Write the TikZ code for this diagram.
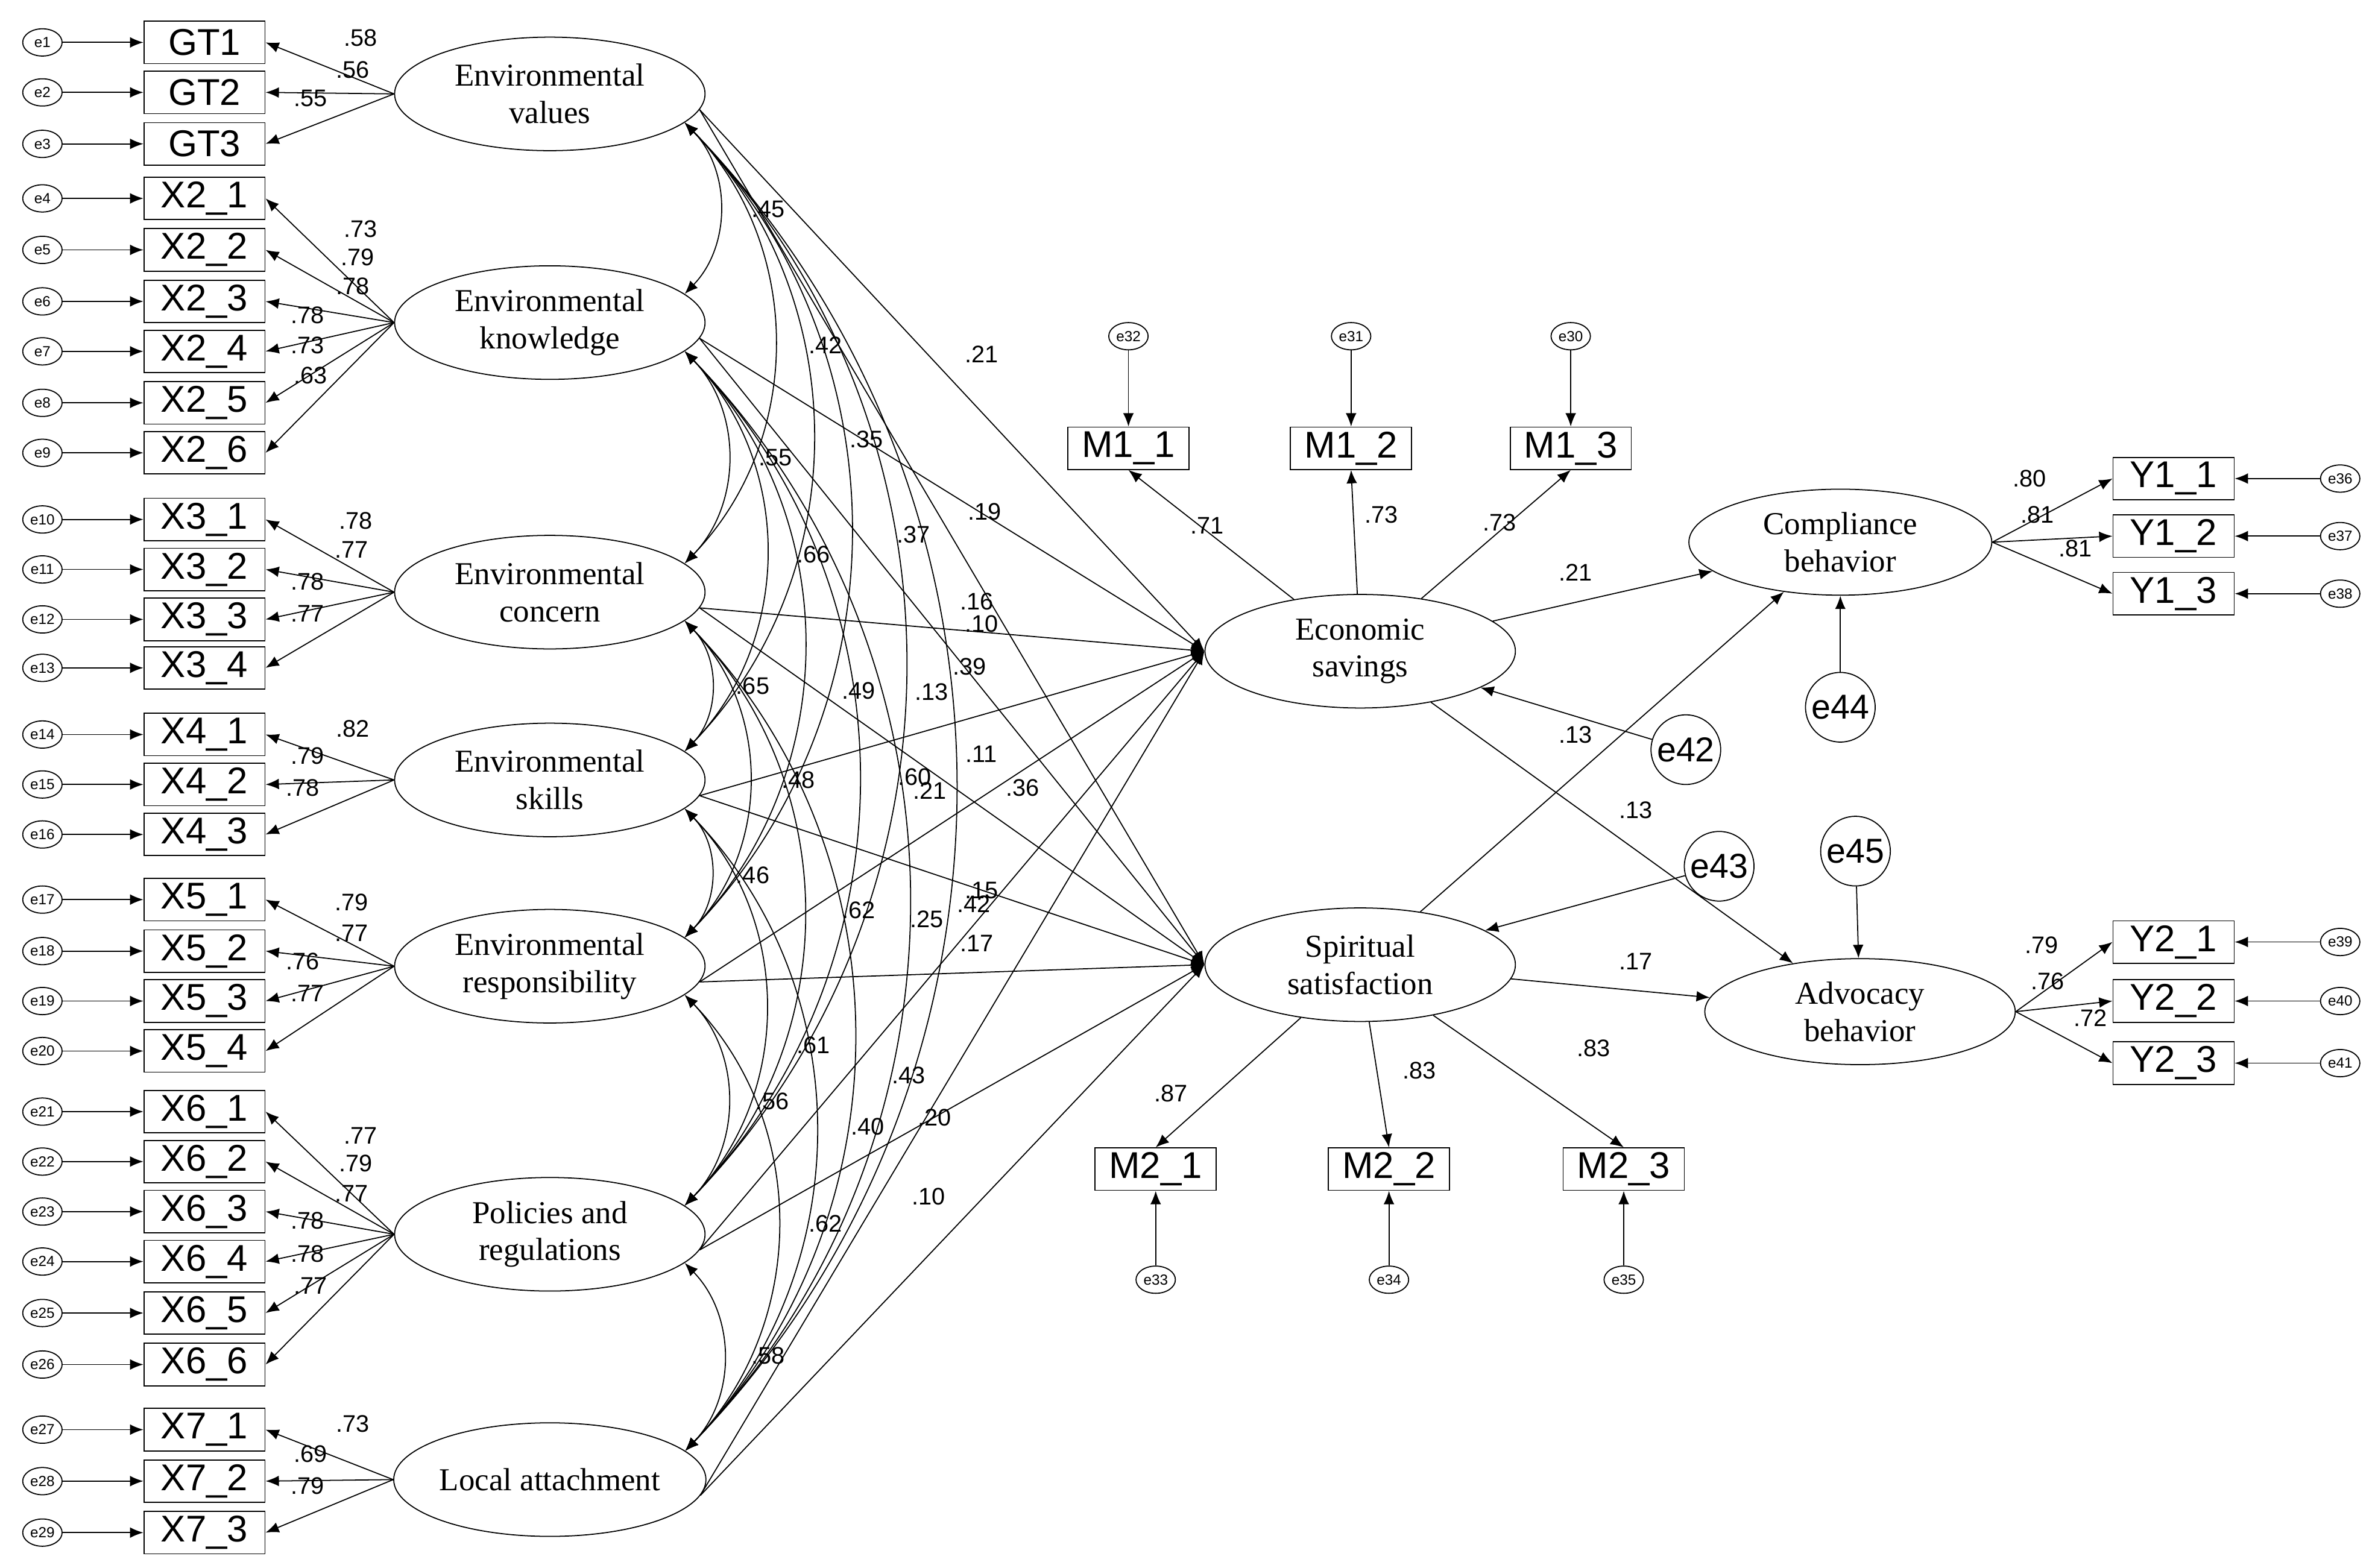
\documentclass[tikz,border=0pt]{standalone}
\usepackage{fontspec}
\setmainfont{Liberation Serif}
\newfontfamily\sansf{Liberation Sans}
\usetikzlibrary{arrows.meta,shapes.geometric}
\begin{document}
\begin{tikzpicture}[x=0.02cm,y=-0.02cm,
 box/.style={draw,minimum width=1.6cm,minimum height=0.56cm,font=\sansf\fontsize{14}{14}\selectfont,inner sep=0},
 err/.style={draw,ellipse,minimum width=0.52cm,minimum height=0.36cm,inner sep=0,font=\sansf\fontsize{5.5}{6}\selectfont},
 bigerr/.style={draw,circle,minimum size=0.92cm,inner sep=0,font=\sansf\fontsize{13}{13}\selectfont},
 lat/.style={draw,ellipse,minimum width=4.1cm,minimum height=1.5cm,align=center,inner sep=0,font=\fontsize{12}{14}\selectfont},
 num/.style={font=\sansf\fontsize{9}{9}\selectfont,inner sep=1pt},
 arr/.style={-{Latex[length=5pt,width=4pt]}},
 cor/.style={{Latex[length=5pt,width=4pt]}-{Latex[length=5pt,width=4pt]}}]
\useasboundingbox[fill=white] (0,0) rectangle (1568,1035);
% indicators
\foreach \nm/\t/\y/\e in {GT1/GT1/28/e1,GT2/GT2/61/e2,GT3/GT3/95/e3,
 Xa1/X2\_1/131/e4,Xa2/X2\_2/165/e5,Xa3/X2\_3/199/e6,Xa4/X2\_4/232/e7,Xa5/X2\_5/266/e8,Xa6/X2\_6/299/e9,
 Xb1/X3\_1/343/e10,Xb2/X3\_2/376/e11,Xb3/X3\_3/409/e12,Xb4/X3\_4/441/e13,
 Xc1/X4\_1/485/e14,Xc2/X4\_2/518/e15,Xc3/X4\_3/551/e16,
 Xd1/X5\_1/594/e17,Xd2/X5\_2/628/e18,Xd3/X5\_3/661/e19,Xd4/X5\_4/694/e20,
 Xe1/X6\_1/734/e21,Xe2/X6\_2/767/e22,Xe3/X6\_3/800/e23,Xe4/X6\_4/833/e24,Xe5/X6\_5/867/e25,Xe6/X6\_6/901/e26,
 Xf1/X7\_1/944/e27,Xf2/X7\_2/978/e28,Xf3/X7\_3/1012/e29}{
 \node[box] (\nm) at (135,\y) {\t};
 \node[err] (\e) at (28,\y) {\e};
 \draw[arr] (\e) -- (\nm);
}
% latents
\node[lat] (L1) at (363,62) {Environmental\\values};
\node[lat] (L2) at (363,213) {Environmental\\knowledge};
\node[lat] (L3) at (363,391) {Environmental\\concern};
\node[lat] (L4) at (363,515) {Environmental\\skills};
\node[lat] (L5) at (363,638) {Environmental\\responsibility};
\node[lat] (L6) at (363,815) {Policies and\\regulations};
\node[lat] (L7) at (363,977) {Local attachment};
\foreach \b in {GT1,GT2,GT3} \draw[arr] (L1.west) -- (\b.east);
\foreach \b in {Xa1,Xa2,Xa3,Xa4,Xa5,Xa6} \draw[arr] (L2.west) -- (\b.east);
\foreach \b in {Xb1,Xb2,Xb3,Xb4} \draw[arr] (L3.west) -- (\b.east);
\foreach \b in {Xc1,Xc2,Xc3} \draw[arr] (L4.west) -- (\b.east);
\foreach \b in {Xd1,Xd2,Xd3,Xd4} \draw[arr] (L5.west) -- (\b.east);
\foreach \b in {Xe1,Xe2,Xe3,Xe4,Xe5,Xe6} \draw[arr] (L6.west) -- (\b.east);
\foreach \b in {Xf1,Xf2,Xf3} \draw[arr] (L7.west) -- (\b.east);
% correlations
\foreach \i in {1,...,6}{
 \pgfmathtruncatemacro{\s}{\i+1}
 \foreach \j in {\s,...,7}{
  \draw[cor] (L\i.-12) to[bend left=44] (L\j.12);
 }
}
% mediators
\node[lat] (ES) at (898,430) {Economic\\savings};
\node[lat] (SS) at (898,637) {Spiritual\\satisfaction};
\node[lat,minimum width=4cm,minimum height=1.4cm] (CB) at (1215,358) {Compliance\\behavior};
\node[lat,minimum width=4.1cm,minimum height=1.4cm] (AB) at (1228,668) {Advocacy\\behavior};
\foreach \i in {1,...,7}{
 \draw[arr] (L\i.-6) -- (ES.west);
 \draw[arr] (L\i.-6) -- (SS.west);
}
\draw[arr] (ES) -- (CB);
\draw[arr] (ES) -- (AB);
\draw[arr] (SS) -- (CB);
\draw[arr] (SS) -- (AB);
% M boxes
\foreach \nm/\t/\x/\e/\ey in {Ma/M1\_1/745/e32/222,Mb/M1\_2/892/e31/222,Mc/M1\_3/1037/e30/222}{
 \node[box] (\nm) at (\x,296) {\t};
 \node[err] (\e) at (\x,\ey) {\e};
 \draw[arr] (\e) -- (\nm);
 \draw[arr] (ES) -- (\nm.south);
}
\foreach \nm/\t/\x/\e in {Md/M2\_1/763/e33,Me/M2\_2/917/e34,Mf/M2\_3/1072/e35}{
 \node[box] (\nm) at (\x,772) {\t};
 \node[err] (\e) at (\x,845) {\e};
 \draw[arr] (\e) -- (\nm);
 \draw[arr] (SS) -- (\nm.north);
}
\foreach \nm/\t/\y/\e/\L in {Ya1/Y1\_1/316/e36/CB,Ya2/Y1\_2/354/e37/CB,Ya3/Y1\_3/392/e38/CB,
 Yb1/Y2\_1/622/e39/AB,Yb2/Y2\_2/661/e40/AB,Yb3/Y2\_3/702/e41/AB}{
 \node[box] (\nm) at (1435,\y) {\t};
 \node[err] (\e) at (1545,\y) {\e};
 \draw[arr] (\e) -- (\nm);
 \draw[arr] (\L.east) -- (\nm.west);
}
\node[bigerr] (e42) at (1113,495) {e42};
\node[bigerr] (e43) at (1135,572) {e43};
\node[bigerr] (e44) at (1215,467) {e44};
\node[bigerr] (e45) at (1225,562) {e45};
\draw[arr] (e42) -- (ES);
\draw[arr] (e43) -- (SS);
\draw[arr] (e44) -- (CB);
\draw[arr] (e45) -- (AB);
% labels
\foreach \v/\x/\y in {.58/238/25,.56/233/46,.55/205/65,
 .73/238/151,.79/236/170,.78/233/189,.78/203/208,.73/203/228,.63/205/248,
 .78/235/344,.77/232/363,.78/203/384,.77/203/405,
 .82/233/481,.79/203/499,.78/200/520,
 .79/232/596,.77/232/616,.76/200/635,.77/203/656,
 .77/238/750,.79/235/768,.77/232/788,.78/203/806,.78/203/828,.77/205/849,
 .73/233/940,.69/205/960,.79/203/981,
 .45/507/138,.21/648/234,.42/545/228,.35/572/290,.55/512/302,.19/650/338,.37/603/353,.66/537/366,
 .16/645/397,.10/648/412,.39/640/440,.49/567/456,.13/615/457,.65/497/453,.11/648/498,.48/527/515,
 .60/604/513,.21/614/522,.36/675/520,.15/648/588,.42/643/597,.62/567/601,.25/612/607,.17/645/623,
 .46/497/578,.61/537/690,.43/600/710,.56/510/727,.20/617/738,.40/573/744,.10/613/790,.62/545/808,.58/507/895,
 .71/797/347,.73/912/340,.73/990/345,.21/1040/378,.13/1040/485,.13/1080/535,.17/1080/635,
 .87/773/722,.83/937/707,.83/1052/692,.80/1340/316,.81/1345/340,.81/1370/362,
 .79/1348/624,.76/1352/648,.72/1380/672}
 \node[num] at (\x,\y) {\v};
\end{tikzpicture}
\end{document}
